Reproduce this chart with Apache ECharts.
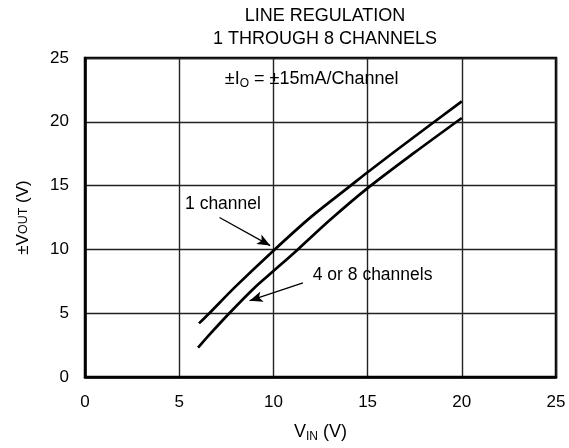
<!DOCTYPE html>
<html>
<head>
<meta charset="utf-8">
<script src="https://cdn.jsdelivr.net/npm/echarts@6/dist/echarts.min.js"></script>
<style>
  html, body { margin: 0; padding: 0; background: #fff; }
  #chart { width: 569px; height: 448px; }
</style>
</head>
<body>
<div id="chart"></div>
<script>
// axis ticks
const xTicks = [0, 5, 10, 15, 20, 25]
const yTicks = [0, 5, 10, 15, 20, 25]

// curves: [VIN, VOUT]
const oneChannel = [
  [6.05, 4.2], [6.6, 5.0], [8.0, 7.1], [10.0, 9.9], [12.0, 12.55],
  [14.1, 15.0], [15.0, 16.05], [17.5, 18.85], [20.0, 21.6]
]
const fourOrEight = [
  [6.0, 2.3], [6.5, 3.15], [7.66, 5.0], [9.0, 7.0], [10.0, 8.3],
  [11.3, 10.0], [13.0, 12.3], [15.0, 14.8], [17.5, 17.6], [20.0, 20.3]
]

// annotations (data coords)
const labelOne = { text: '1 channel', at: [5.31, 13.55] }
const arrowOne = [[7.14, 12.5], [9.83, 10.3]]
const labelFour = { text: '4 or 8 channels', at: [12.09, 8.0] }
const arrowFour = [[11.57, 7.37], [8.74, 5.98]]
const labelCurrent = { at: [12.03, 23.35] }

const font = 'Liberation Sans, Arial, Helvetica, sans-serif'
const chart = echarts.init(document.getElementById('chart'), null, { renderer: 'canvas' })

const lineStyle = { color: '#000', width: 2.7 }

const option = {
  animation: false,
  backgroundColor: '#fff',
  textStyle: { fontFamily: font, color: '#000' },
  title: {
    text: 'LINE REGULATION\n1 THROUGH 8 CHANNELS',
    left: 320,
    top: 0,
    textAlign: 'center',
    textStyle: { fontFamily: font, fontSize: 18, fontWeight: 'normal', color: '#000', lineHeight: 23 }
  },
  grid: {
    left: 85, right: 13, top: 58, bottom: 71,
    show: true, borderColor: '#000', borderWidth: 2.5
  },
  xAxis: {
    type: 'value', min: xTicks[0], max: xTicks[xTicks.length - 1], interval: 5,
    axisLine: { show: true, lineStyle: { color: '#000', width: 2.5 } },
    axisTick: { show: false },
    axisLabel: { color: '#000', fontSize: 17, fontFamily: font, margin: 17 },
    splitLine: { show: true, lineStyle: { color: '#222', width: 1.4 } },
    name: 'V{s|IN} (V)',
    nameLocation: 'middle',
    nameGap: 45,
    nameTextStyle: {
      color: '#000', fontSize: 18, fontFamily: font,
      rich: { s: { fontSize: 12, fontFamily: font, color: '#000', padding: [9, 0, 0, 0] } }
    }
  },
  yAxis: {
    type: 'value', min: yTicks[0], max: yTicks[yTicks.length - 1], interval: 5,
    axisLine: { show: true, lineStyle: { color: '#000', width: 2.5 } },
    axisTick: { show: false },
    axisLabel: { color: '#000', fontSize: 17, fontFamily: font, margin: 16, padding: [5, 0, 0, 0] },
    splitLine: { show: true, lineStyle: { color: '#222', width: 1.4 } },
    name: '±V{s|OUT} (V)',
    nameLocation: 'middle',
    nameGap: 53,
    nameRotate: 90,
    nameTextStyle: {
      color: '#000', fontSize: 17, fontFamily: font,
      rich: { s: { fontSize: 12.5, fontFamily: font, color: '#000' } }
    }
  },
  series: [
    {
      name: '1 channel',
      type: 'line',
      data: oneChannel,
      smooth: 0.3,
      showSymbol: false,
      lineStyle: lineStyle,
      markLine: {
        silent: true,
        symbol: ['none', 'arrow'],
        symbolSize: [8, 13],
        lineStyle: { color: '#000', width: 1.3, type: 'solid' },
        label: { show: false },
        data: [
          [{ coord: arrowOne[0] }, { coord: arrowOne[1] }],
          [{ coord: arrowFour[0] }, { coord: arrowFour[1] }]
        ]
      },
      markPoint: {
        silent: true,
        symbol: 'circle',
        symbolSize: 0,
        label: {
          show: true,
          color: '#000',
          fontSize: 17.5,
          fontFamily: font,
          align: 'left',
          verticalAlign: 'middle'
        },
        data: [
          { coord: labelOne.at, label: { formatter: labelOne.text } },
          { coord: labelFour.at, label: { formatter: labelFour.text } },
          {
            coord: labelCurrent.at,
            label: {
              align: 'center',
              fontSize: 18,
              formatter: '±I{s|O} = ±15mA/Channel',
              rich: { s: { fontSize: 12, fontFamily: font, color: '#000', padding: [9, 0, 0, 0] } }
            }
          }
        ]
      }
    },
    {
      name: '4 or 8 channels',
      type: 'line',
      data: fourOrEight,
      smooth: 0.3,
      showSymbol: false,
      lineStyle: lineStyle
    }
  ]
}

chart.setOption(option)
</script>
</body>
</html>
